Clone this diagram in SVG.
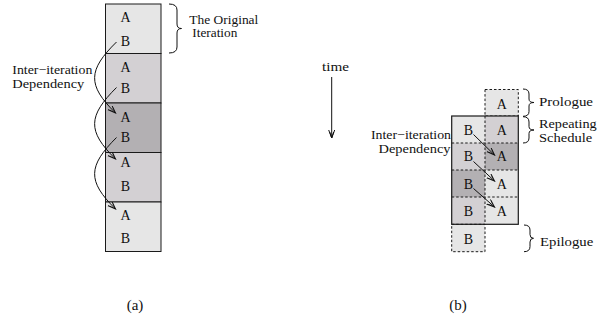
<svg xmlns="http://www.w3.org/2000/svg" width="609" height="320" viewBox="0 0 609 320" font-family="'Liberation Serif', 'Times New Roman', Times, serif">
<style>
text{font-family:'Liberation Serif','Times New Roman',Times,serif;fill:#111;}
.lt{fill:#e6e6e6}.md{fill:#d3d0d3}.dk{fill:#b3b0b3}
.cell{stroke:#1a1a1a;stroke-width:1}
.dash{stroke:#1a1a1a;stroke-width:1;stroke-dasharray:2.5,2;fill:none}
.solid{stroke:#1a1a1a;stroke-width:1.2;fill:none}
.ab{font-size:14px;text-anchor:middle}
.lbl{font-size:12.5px}
.cap{font-size:15px;text-anchor:middle}
.conn{fill:none;stroke:#111;stroke-width:1}
.brace{fill:none;stroke:#111;stroke-width:1}
</style>
<defs>
<marker id="ah" markerWidth="10" markerHeight="8" refX="8" refY="3" orient="auto" markerUnits="userSpaceOnUse">
<path d="M0,0 L8,3 L0,6 M2,1 L8,3 L2,5" fill="none" stroke="#111" stroke-width="1"/>
</marker>
</defs>
<rect width="609" height="320" fill="#fff"/>

<!-- (a) -->
<g id="iter1"><rect class="cell lt" x="105.5" y="4" width="55.5" height="49.5"/><text class="ab" x="125.5" y="22">A</text><text class="ab" x="125.5" y="46">B</text></g>
<g id="iter2"><rect class="cell md" x="105.5" y="53.5" width="55.5" height="49.5"/><text class="ab" x="125.5" y="71.5">A</text><text class="ab" x="125.5" y="93">B</text></g>
<g id="iter3"><rect class="cell dk" x="105.5" y="103" width="55.5" height="49.5"/><text class="ab" x="125.5" y="122">A</text><text class="ab" x="125.5" y="142">B</text></g>
<g id="iter4"><rect class="cell md" x="105.5" y="152.5" width="55.5" height="49.5"/><text class="ab" x="125.5" y="166.5">A</text><text class="ab" x="125.5" y="190.5">B</text></g>
<g id="iter5"><rect class="cell lt" x="105.5" y="202" width="55.5" height="49.5"/><text class="ab" x="125.5" y="220">A</text><text class="ab" x="125.5" y="243">B</text></g>

<g id="label-orig">
<path class="brace" d="M169,4 Q177,4 177,10 L177,24 Q177,28.5 181.5,28.5 Q177,28.5 177,33 L177,47 Q177,53 169,53"/>
<text class="lbl" x="189.3" y="23.5" textLength="69" lengthAdjust="spacingAndGlyphs">The Original</text>
<text class="lbl" x="192.3" y="37" textLength="45" lengthAdjust="spacingAndGlyphs">Iteration</text>
</g>
<g id="label-dep-a">
<text class="lbl" x="12.3" y="74" textLength="80" lengthAdjust="spacingAndGlyphs">Inter−iteration</text>
<text class="lbl" x="12.3" y="88" textLength="72" lengthAdjust="spacingAndGlyphs">Dependency</text>
</g>
<text class="cap" x="135" y="310">(a)</text>

<!-- time -->
<g id="time">
<text class="lbl" x="335.5" y="70.5" text-anchor="middle" textLength="27" lengthAdjust="spacingAndGlyphs">time</text>
</g>

<!-- (b) -->
<g id="prologue"><rect class="lt" x="485" y="89.5" width="33.3" height="26.5"/><rect class="dash" x="485" y="89.5" width="33.3" height="26.5"/><text class="ab" x="501.7" y="108.5">A</text></g>
<g id="row1"><rect class="lt" x="451.7" y="116" width="33.3" height="27"/><rect class="md" x="485" y="116" width="33.3" height="27"/><text class="ab" x="468.3" y="134.5">B</text><text class="ab" x="501.7" y="134.5">A</text></g>
<g id="row2"><rect class="md" x="451.7" y="143" width="33.3" height="27"/><rect class="dk" x="485" y="143" width="33.3" height="27"/><text class="ab" x="468.3" y="161">B</text><text class="ab" x="501.7" y="161">A</text></g>
<g id="row3"><rect class="dk" x="451.7" y="170" width="33.3" height="27"/><rect class="lt" x="485" y="170" width="33.3" height="27"/><text class="ab" x="468.3" y="188.5">B</text><text class="ab" x="501.7" y="188.5">A</text></g>
<g id="row4"><rect class="md" x="451.7" y="197" width="33.3" height="27.3"/><rect class="lt" x="485" y="197" width="33.3" height="27.3"/><text class="ab" x="468.3" y="216">B</text><text class="ab" x="501.7" y="216">A</text></g>
<g id="epilogue"><rect class="lt" x="451.7" y="224.3" width="33.3" height="27.4"/><rect class="dash" x="451.7" y="224.3" width="33.3" height="27.4"/><text class="ab" x="468.3" y="244">B</text></g>
<g id="schedule-frame">
<path class="dash" d="M451.7,143 H518.3 M451.7,170 H518.3 M451.7,197 H518.3 M485,116 V224.3"/>
<rect class="solid" x="451.7" y="116" width="66.6" height="108.3"/>
</g>

<g id="label-prologue">
<path class="brace" d="M523,89 Q529,89 529,94 L529,99 Q529,102.5 534,102.5 Q529,102.5 529,106 L529,111.5 Q529,116.3 523,116.3"/>
<text class="lbl" x="539" y="105.7" textLength="54" lengthAdjust="spacingAndGlyphs">Prologue</text>
</g>
<g id="label-repeat">
<path class="brace" d="M523,116.7 Q529,116.7 529,122 L529,126.5 Q529,130 534,130 Q529,130 529,133.5 L529,138 Q529,143 523,143"/>
<text class="lbl" x="539" y="128" textLength="57.7" lengthAdjust="spacingAndGlyphs">Repeating</text>
<text class="lbl" x="539" y="141.5" textLength="53.3" lengthAdjust="spacingAndGlyphs">Schedule</text>
</g>
<g id="label-epilogue">
<path class="brace" d="M524,225 Q530,225 530,230 L530,234.5 Q530,238.3 533.5,238.3 Q530,238.3 530,242 L530,246.5 Q530,251.7 524,251.7"/>
<text class="lbl" x="540" y="245.7" textLength="53.3" lengthAdjust="spacingAndGlyphs">Epilogue</text>
</g>
<g id="label-dep-b">
<text class="lbl" x="451" y="138.5" text-anchor="end" textLength="80" lengthAdjust="spacingAndGlyphs">Inter−iteration</text>
<text class="lbl" x="450.5" y="152.5" text-anchor="end" textLength="72" lengthAdjust="spacingAndGlyphs">Dependency</text>
</g>
<text class="cap" x="458" y="310">(b)</text>

<g id="connectors">
<path class="conn" marker-end="url(#ah)" d="M116.5,42 C88,70 87,85 115.5,113"/>
<path class="conn" marker-end="url(#ah)" d="M116.5,87.5 C88,116 87,131 115.5,159"/>
<path class="conn" marker-end="url(#ah)" d="M116.5,137.5 C88,166 87,181 115.5,209"/>
<path class="conn" marker-end="url(#ah)" d="M331.7,77 V138"/>
<path class="conn" marker-end="url(#ah)" d="M473.5,134.5 L494.5,155"/>
<path class="conn" marker-end="url(#ah)" d="M473.5,161.5 L494.5,181"/>
<path class="conn" marker-end="url(#ah)" d="M473.5,188.5 L494.5,207"/>
</g>
</svg>
